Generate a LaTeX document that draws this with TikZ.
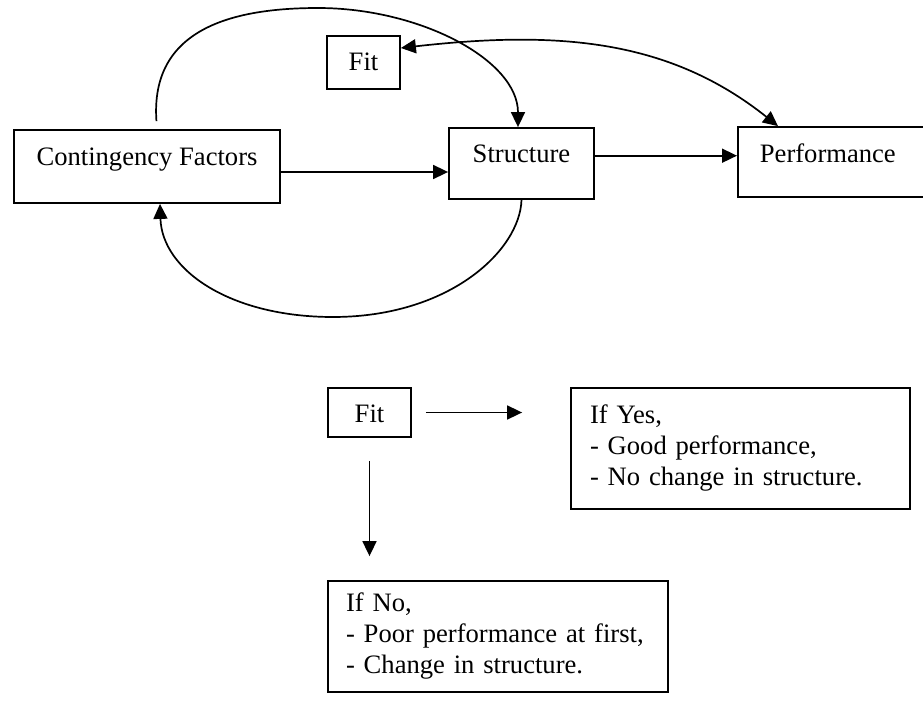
\documentclass[tikz,border=0pt]{standalone}
\usepackage{fontspec}
\setmainfont{Liberation Serif}
\usetikzlibrary{arrows.meta}

\begin{document}
\begin{tikzpicture} [
		x = 0.5pt,
		y = -0.5pt,
		>={Triangle[length = 7.5pt, width = 7pt]},
		box/.style = {
			draw,
			rectangle,
			line width = 0.9pt,
			inner sep = 0pt,
			font = \fontsize{13.3pt}{15.5pt}\selectfont,
		},
		list-box/.style = {
			box,
			align = left,
		},
		line/.style = {
			draw,
			line width = 0.85pt,
			->,
		},
	]
	\useasboundingbox (0,0) rectangle (923,702);
	\clip (0,0) rectangle (923,702);

	% upper diagram
	\node[box, anchor = base, minimum width = 133pt, text height = 17.5pt, text depth = 19pt] (factors) at (147,165) {
		Contingency Factors
	};
	\node[box, anchor = base, minimum width = 72.5pt, text height = 17.3pt, text depth = 18.2pt] (structure) at (521.5,162.6) {
		Structure
	};
	\node[box, anchor = base west, inner xsep = 11pt, text width = 100pt, align = left, text height = 17.8pt, text depth = 17.2pt] (performance) at (737,162.6) {
		Performance
	};
	\node[box, anchor = base, minimum width = 36.5pt, text height = 17.3pt, text depth = 9.2pt] (fitTop) at (363.5,70.6) {
		Fit
	};

	% lower diagram
	\node[box, anchor = base, minimum width = 41.5pt, text height = 17.3pt, text depth = 7.2pt] (fitBottom) at (369.5,422.6) {
		Fit
	};
	\node[list-box, inner xsep = 9.5pt, text width = 150.5pt, minimum height = 60.5pt] (ifYes) at (740.5,448.5) {%
		If Yes,\\
		- Good performance,\\
		- No change in structure.%
	};
	\node[list-box, inner xsep = 9pt, text width = 152pt, minimum height = 55.5pt] (ifNo) at (498,636.5) {%
		If No,\\
		- Poor performance at first,\\
		- Change in structure.%
	};

	\begin{scope} [
		every path/.style = line
		]
		\path ([yshift=-2.75pt]factors.east) -- ([yshift=-2.75pt]factors.east -| structure.west);
		\path ([yshift=3.9pt]structure.east) -- ([yshift=3.9pt]structure.east -| performance.west);

		\path[shorten <=4pt] ([xshift=5pt]factors.north) .. controls (150,30) and (230,8) .. (318,8)
			.. controls (420,8) and (518,60) .. ([xshift=-1.75pt]structure.north);
		\path (structure.south) .. controls (520,250) and (450,317) .. (333,317)
			.. controls (230,317) and (162,270) .. ([xshift=6.5pt]factors.south);
		\path[<->] ([yshift=7.25pt]fitTop.east) .. controls (560,30) and (670,40) .. ([xshift=20.5pt]performance.north west);

		\path[shorten <=7pt, shorten >=24pt] (fitBottom.east) -- (fitBottom.east -| ifYes.west);
		\path[shorten <=11.5pt, shorten >=12pt] (fitBottom.south) -- (fitBottom.south |- ifNo.north);
	\end{scope}
\end{tikzpicture}
\end{document}
